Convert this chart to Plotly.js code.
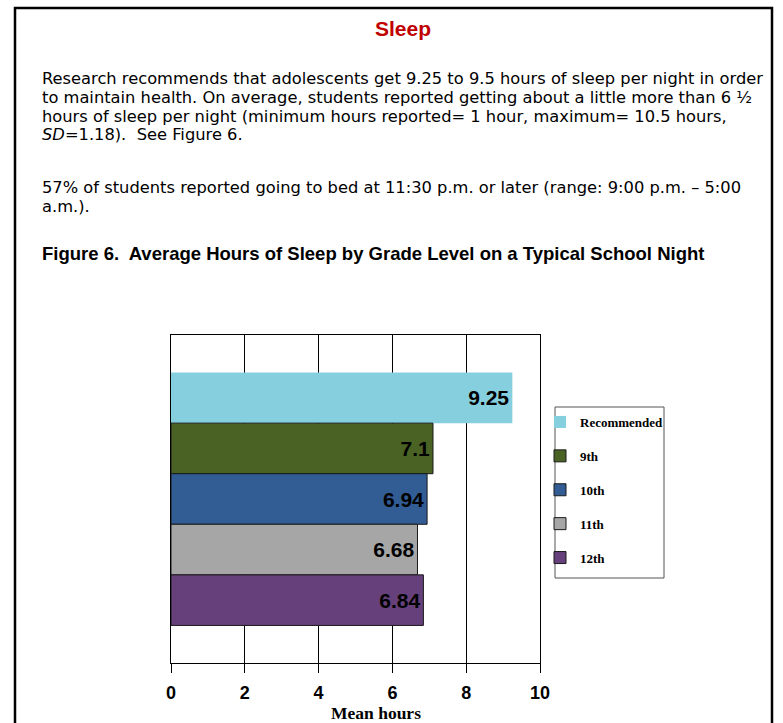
<!DOCTYPE html>
<html>
<head>
<meta charset="utf-8">
<script src="https://cdn.plot.ly/plotly-3.0.1.min.js"></script>
<style>html,body{margin:0;padding:0;background:#fff;}#chart{width:783px;height:723px;}</style>
</head>
<body>
<div id="chart"></div>
<script>
// ---- data ----
const categories = ['Recommended', '9th', '10th', '11th', '12th'];
const meanHours = [9.25, 7.1, 6.94, 6.68, 6.84];
const barColors = ['#85CFDE', '#4A6324', '#315C94', '#A6A6A6', '#66407A'];
const xTicks = [0, 2, 4, 6, 8, 10];

const headingText = 'Sleep';
const paragraph1 = [
  'Research recommends that adolescents get 9.25 to 9.5 hours of sleep per night in order',
  'to maintain health. On average, students reported getting about a little more than 6 ½',
  'hours of sleep per night (minimum hours reported= 1 hour, maximum= 10.5 hours,',
  '<i>SD</i>=1.18).  See Figure 6.'
];
const paragraph2 = [
  '57% of students reported going to bed at 11:30 p.m. or later (range: 9:00 p.m. – 5:00',
  'a.m.).'
];
const figureCaption = 'Figure 6.  Average Hours of Sleep by Grade Level on a Typical School Night';
const xAxisTitle = 'Mean hours';

// ---- layout helpers ----
const W = 783, H = 723;
const M = {l: 171, r: 243, t: 335, b: 60};
const PW = W - M.l - M.r, PH = H - M.t - M.b;
const fx = px => (px - M.l) / PW;
const fy = py => (H - M.b - py) / PH;

const traces = categories.map((c, i) => ({
  type: 'bar',
  orientation: 'h',
  name: c,
  legendgroup: c,
  x: [meanHours[i]],
  y: ['g'],
  text: [String(meanHours[i])],
  textposition: 'inside',
  insidetextanchor: 'end',
  textangle: 0,
  insidetextfont: {family: 'Liberation Sans, Arial', size: 21, color: '#000', weight: 'bold'},
  marker: {color: barColors[i], line: {color: i === 0 ? barColors[i] : '#1a1a1a', width: i === 0 ? 0 : 1}},
  hoverinfo: 'x+name'
}));

const textFont = {family: 'DejaVu Sans', size: 16.3, color: '#000'};
const annotations = [];
annotations.push({text: headingText, xref: 'paper', yref: 'paper', x: fx(403), y: fy(28), xanchor: 'center', yanchor: 'middle', showarrow: false,
  font: {family: 'Liberation Sans, Arial', size: 21, color: '#C00000', weight: 'bold'}});
paragraph1.forEach((t, i) => annotations.push({text: t, xref: 'paper', yref: 'paper', x: fx(40), y: fy(78 + 19 * i), xanchor: 'left', yanchor: 'middle', showarrow: false, font: textFont}));
paragraph2.forEach((t, i) => annotations.push({text: t, xref: 'paper', yref: 'paper', x: fx(40), y: fy(187 + 19 * i), xanchor: 'left', yanchor: 'middle', showarrow: false, font: textFont}));
annotations.push({text: figureCaption, xref: 'paper', yref: 'paper', x: fx(40), y: fy(254), xanchor: 'left', yanchor: 'middle', showarrow: false,
  font: {family: 'Liberation Sans, Arial', size: 18.5, color: '#000', weight: 'bold'}});
annotations.push({text: xAxisTitle, xref: 'paper', yref: 'paper', x: fx(376), y: fy(713), xanchor: 'center', yanchor: 'middle', showarrow: false,
  font: {family: 'Liberation Serif, Times New Roman, serif', size: 17.5, color: '#000', weight: 'bold'}});

const layout = {
  width: W, height: H,
  margin: M,
  paper_bgcolor: '#fff', plot_bgcolor: '#fff',
  barmode: 'group', bargap: 0.229, bargroupgap: 0,
  showlegend: true,
  legend: {
    x: fx(540), y: fy(407), xanchor: 'left', yanchor: 'top',
    bgcolor: 'rgba(0,0,0,0)', borderwidth: 0,
    font: {family: 'Liberation Serif, Times New Roman, serif', size: 13, color: '#000', weight: 'bold'},
    tracegroupgap: 14, traceorder: 'grouped'
  },
  xaxis: {
    range: [0, 10], tickvals: xTicks, ticktext: xTicks.map(String),
    showgrid: true, gridcolor: '#000', gridwidth: 1,
    showline: true, linecolor: '#000', linewidth: 1, mirror: true,
    ticks: 'outside', ticklen: 9, tickcolor: '#000', tickwidth: 1,
    ticklabelstandoff: 4,
    tickfont: {family: 'Liberation Sans, Arial', size: 18, color: '#000', weight: 'bold'},
    zeroline: false, fixedrange: true
  },
  yaxis: {
    type: 'category', autorange: 'reversed', showticklabels: false, ticks: '',
    showgrid: false, showline: true, linecolor: '#000', linewidth: 1, mirror: true,
    zeroline: false, fixedrange: true
  },
  shapes: [
    {type: 'rect', xref: 'paper', yref: 'paper', x0: fx(15), x1: fx(772), y0: fy(760), y1: fy(8),
      line: {color: '#000', width: 2.5}, fillcolor: 'rgba(0,0,0,0)', layer: 'above'},
    {type: 'rect', xref: 'paper', yref: 'paper', x0: fx(555), x1: fx(664), y0: fy(578), y1: fy(407),
      line: {color: '#555', width: 1}, fillcolor: 'rgba(0,0,0,0)', layer: 'above'}
  ],
  annotations: annotations
};

Plotly.newPlot('chart', traces, layout, {displayModeBar: false});
</script>
</body>
</html>
